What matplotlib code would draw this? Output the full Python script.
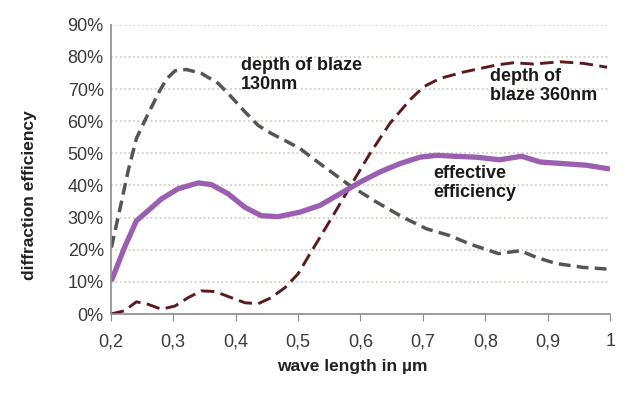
import matplotlib.pyplot as plt
from matplotlib.ticker import FuncFormatter

plt.rcParams['font.family'] = ['Liberation Sans', 'DejaVu Sans']

# depth of blaze 130nm (gray dashed)
wl_130 = [0.201, 0.215, 0.228, 0.241, 0.26, 0.279, 0.29, 0.303, 0.321, 0.345, 0.372, 0.393, 0.415,
          0.436, 0.457, 0.479, 0.503, 0.535, 0.583, 0.626, 0.668, 0.706, 0.743, 0.775, 0.821, 0.856,
          0.882, 0.914, 0.957, 0.995]
eff_130 = [0.207, 0.33, 0.447, 0.546, 0.624, 0.697, 0.733, 0.757, 0.761, 0.749, 0.718, 0.676, 0.629,
           0.587, 0.562, 0.54, 0.515, 0.468, 0.40, 0.348, 0.301, 0.265, 0.244, 0.218, 0.188, 0.197,
           0.176, 0.157, 0.145, 0.14]

# depth of blaze 360nm (dark red dashed)
wl_360 = [0.20, 0.222, 0.241, 0.26, 0.281, 0.303, 0.324, 0.345, 0.367, 0.393, 0.415, 0.436, 0.457,
          0.479, 0.50, 0.519, 0.551, 0.583, 0.615, 0.647, 0.679, 0.701, 0.727, 0.765, 0.818, 0.845,
          0.877, 0.92, 0.957, 0.995]
eff_360 = [0.0, 0.01, 0.038, 0.03, 0.015, 0.025, 0.051, 0.072, 0.07, 0.051, 0.035, 0.032, 0.051,
           0.082, 0.125, 0.187, 0.29, 0.395, 0.499, 0.593, 0.666, 0.707, 0.733, 0.753, 0.775, 0.782,
           0.778, 0.785, 0.78, 0.768]

# effective efficiency (purple)
wl_eff = [0.202, 0.222, 0.241, 0.26, 0.281, 0.308, 0.34, 0.361, 0.388, 0.415, 0.441, 0.468, 0.503,
          0.535, 0.567, 0.599, 0.631, 0.663, 0.695, 0.722, 0.75, 0.786, 0.823, 0.858, 0.888, 0.925,
          0.962, 0.997]
eff_eff = [0.108, 0.207, 0.29, 0.322, 0.358, 0.39, 0.408, 0.403, 0.374, 0.332, 0.306, 0.303, 0.317,
           0.338, 0.374, 0.41, 0.442, 0.468, 0.488, 0.494, 0.491, 0.488, 0.48, 0.491, 0.473, 0.468,
           0.463, 0.452]

x_ticks = [0.2, 0.3, 0.4, 0.5, 0.6, 0.7, 0.8, 0.9, 1.0]
y_ticks = [0, 0.1, 0.2, 0.3, 0.4, 0.5, 0.6, 0.7, 0.8, 0.9]

fig = plt.figure(figsize=(6.33, 3.94), dpi=100)
ax = fig.add_axes([0.175, 0.203, 0.789, 0.734])

ax.plot(wl_130, eff_130, color='#555555', lw=2.5, ls=(0, (3.4, 1.8)))
ax.plot(wl_360, eff_360, color='#5e1a1a', lw=2.1, ls=(0, (4.6, 2.2)))
ax.plot(wl_eff, eff_eff, color='#9a5fb0', lw=3.8, solid_capstyle='round', solid_joinstyle='round')

ax.set_xlim(0.2, 1.0)
ax.set_ylim(0, 0.9)
ax.set_xticks(x_ticks)
ax.set_yticks(y_ticks)
ax.xaxis.set_major_formatter(FuncFormatter(lambda v, p: ('%g' % round(v, 1)).replace('.', ',')))
ax.yaxis.set_major_formatter(FuncFormatter(lambda v, p: '%d%%' % round(v * 100)))

ax.grid(axis='y', color='#c9c9b4', ls=':', lw=1.2)
ax.set_axisbelow(True)
for s in ['top', 'right']:
    ax.spines[s].set_visible(False)
for s in ['left', 'bottom']:
    ax.spines[s].set_color('#8c8c8c')
    ax.spines[s].set_linewidth(1.2)
ax.tick_params(axis='y', length=0, labelsize=13, labelcolor='#3a3a3a', pad=5)
ax.tick_params(axis='x', direction='out', length=5, color='#8c8c8c', labelsize=13,
               labelcolor='#3a3a3a', pad=9)

ax.set_xlabel('wave length in µm', fontsize=12.5, fontweight='bold', color='#222222')
ax.set_ylabel('diffraction efficiency', fontsize=12.5, fontweight='bold', color='#222222')
ax.xaxis.set_label_coords(0.483, -0.157)
ax.yaxis.set_label_coords(-0.148, 0.41)

ax.text(0.408, 0.80, 'depth of blaze\n130nm', fontsize=13, fontweight='bold', va='top',
        linespacing=1.15, color='#1a1a1a')
ax.text(0.807, 0.765, 'depth of\nblaze 360nm', fontsize=13, fontweight='bold', va='top',
        linespacing=1.15, color='#1a1a1a')
ax.text(0.716, 0.465, 'effective\nefficiency', fontsize=13, fontweight='bold', va='top',
        linespacing=1.15, color='#1a1a1a')

fig.savefig('out.png', dpi=100)
